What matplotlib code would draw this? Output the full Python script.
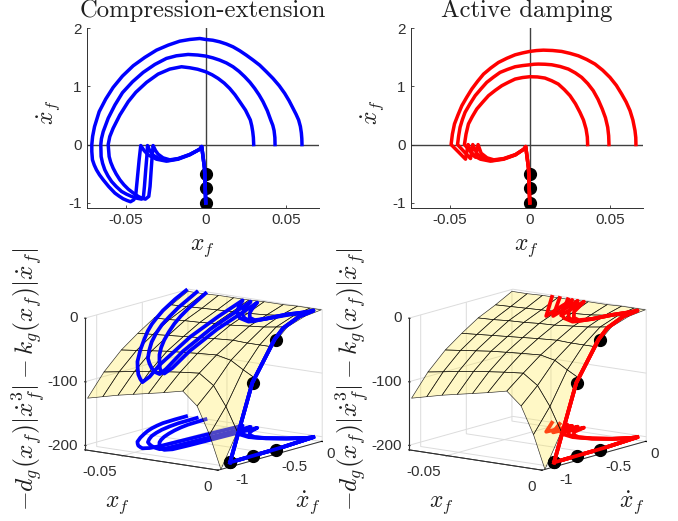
import matplotlib
matplotlib.use('Agg')
import matplotlib.pyplot as plt
import numpy as np

plt.rcParams['font.family'] = ['Liberation Sans', 'DejaVu Sans']
plt.rcParams['mathtext.fontset'] = 'cm'
plt.rcParams['axes.unicode_minus'] = False

W, H = 678, 521

# upper half of the phase portraits (dx > 0), outer / middle / inner cycle
ce_up_x = [
    [.0600, .0599, .0596, .0590, .0579, .0563, .0544, .0520, .0492, .0458, .0419, .0378, .0336, .0295, .0253, .0212,
     .017, .0129, .0087, .0044, 0, -.0037, -.01, -.0162, -.0234, -.0307, -.0380, -.0452, -.0519, -.0577, -.0623,
     -.0664, -.0693, -.0705, -.0710],
    [.0432, .0431, .0426, .0418, .0405, .0384, .0357, .0333, .0305, .0275, .0243, .0208, .017, .0129, .0087, .0044,
     0, -.005, -.011, -.0183, -.0245, -.0317, -.0390, -.0456, -.0519, -.0566, -.0608, -.0639, -.0650, -.0654],
    [.0299, .0297, .0293, .0287, .0278, .0248, .0212, .0182, .0149, .0115, .0077, .0040, 0, -.005, -.01, -.0151,
     -.0224, -.0297, -.0369, -.0436, -.0483, -.0535, -.0577, -.0598, -.0608],
]
ce_up_dx = [
    [0, .10, .20, .31, .422, .52, .622, .75, .879, 1.01, 1.135, 1.25, 1.363, 1.45, 1.534, 1.61,
     1.677, 1.725, 1.763, 1.79, 1.803, 1.82, 1.803, 1.774, 1.706, 1.62, 1.495, 1.352, 1.175, .981, .782,
     .565, .308, .14, 0],
    [0, .12, .24, .33, .422, .58, .736, .85, .964, 1.07, 1.164, 1.255, 1.335, 1.40, 1.449, 1.488,
     1.518, 1.536, 1.546, 1.523, 1.478, 1.375, 1.238, 1.078, .89, .679, .451, .222, .10, 0],
    [0, .12, .22, .32, .422, .59, .736, .855, .964, 1.055, 1.135, 1.197, 1.249, 1.292, 1.318, 1.335,
     1.295, 1.209, 1.067, .896, .736, .508, .28, .137, 0],
]
ad_up_x = [
    [.0662, .0661, .0656, .0643, .0625, .0601, .0573, .0540, .0500, .0455, .0407, .0355, .0303, .0251, .0199, .0142,
     .0085, .0042, 0, -.0045, -.0091, -.0143, -.0195, -.0242, -.0288, -.0325, -.0361, -.0393, -.0423, -.0447, -.0469,
     -.0482, -.0490],
    [.0494, .0492, .0486, .0472, .0452, .0426, .0396, .0362, .0324, .0284, .0241, .0189, .0137, .0095, .0054, .0027,
     0, -.0045, -.0091, -.0138, -.0185, -.0227, -.0268, -.0304, -.0340, -.0372, -.0403, -.0420, -.0434, -.0443,
     -.0450],
    [.0361, .0359, .0351, .0335, .0313, .0285, .0251, .0215, .0178, .0137, .0095, .0048, 0, -.0045, -.0091, -.0132,
     -.0174, -.0215, -.0257, -.0294, -.0330, -.0358, -.0382, -.0397, -.0407],
]
ad_up_dx = [
    [0, .12, .240, .42, .582, .73, .867, 1.015, 1.153, 1.275, 1.381, 1.46, 1.523, 1.565, 1.598, 1.614,
     1.620, 1.613, 1.598, 1.572, 1.540, 1.48, 1.409, 1.315, 1.209, 1.085, .953, .81, .667, .51, .354,
     .18, 0],
    [0, .15, .297, .46, .610, .775, .924, 1.045, 1.152, 1.23, 1.295, 1.34, 1.369, 1.378, 1.381, 1.378,
     1.369, 1.355, 1.335, 1.29, 1.238, 1.155, 1.067, .955, .839, .70, .553, .425, .297, .15,
     0],
    [0, .13, .268, .42, .553, .70, .839, .945, 1.038, 1.095, 1.141, 1.16, 1.164, 1.15, 1.124, 1.07,
     1.010, .93, .839, .725, .610, .48, .354, .18, 0],
]

# lower half (dx < 0) with the value of the force on the surface
ce_low_x = [
    [-.0710, -.0710, -.0706, -.0695, -.0681, -.0662, -.0639, -.0605, -.0566, -.0540, -.0515, -.0490, -.0469, -.0448,
     -.0436, -.0425, -.0415, -.0405, -.0384, -.0359, -.0307, -.0245, -.0172, -.0100, -.0037],
    [-.0654, -.0652, -.0643, -.0629, -.0610, -.0587, -.0558, -.0525, -.0495, -.0463, -.0430, -.0400, -.0388, -.0382,
     -.0374, -.0367, -.0363, -.0349, -.0328, -.0286, -.0234, -.0172, -.0100, -.0037],
    [-.0608, -.0602, -.0592, -.0577, -.0558, -.0535, -.0510, -.0483, -.0452, -.0421, -.0398, -.0376, -.0355, -.0347,
     -.0340, -.0334, -.0328, -.0313, -.0297, -.0266, -.0224, -.0172, -.0100, -.0037],
]
ce_low_dx = [
    [0, -.12, -.262, -.35, -.434, -.52, -.605, -.72, -.833, -.885, -.930, -.96, -.981, -.947,
     -.861, -.548, -.262, -.017, -.103, -.177, -.251, -.285, -.251, -.177, -.080],
    [0, -.205, -.32, -.434, -.535, -.633, -.72, -.804, -.85, -.89, -.92, -.936, -.890, -.719,
     -.434, -.205, -.017, -.103, -.183, -.245, -.274, -.245, -.171, -.080],
    [0, -.205, -.305, -.405, -.505, -.605, -.69, -.765, -.83, -.89, -.92, -.936, -.890, -.719,
     -.434, -.205, -.017, -.103, -.165, -.228, -.262, -.240, -.171, -.080],
]
ce_low_z = [
    [-2, -11, -23, -30, -36, -43, -51, -62, -74, -81, -88, -93, -96, -88,
     -72, -40, -19, -3, -9, -13.5, -17, -18.5, -12, -6, -2],
    [-2, -18, -27, -35, -43, -52, -60, -68, -73, -78, -81, -82, -75, -54,
     -30, -15, -3, -9, -13.5, -16.5, -18, -12, -5, -2],
    [-2, -18, -25, -32, -40, -48, -55, -62, -69, -76, -79, -80, -72, -52,
     -29, -15, -3, -8.5, -12, -15.5, -16, -12, -5, -2],
]
ad_low_x = [
    [-.0490, -.0445, -.0400, -.0390, -.0384, -.0359, -.0307, -.0245, -.0162, -.0089, -.0037],
    [-.0450, -.0410, -.0369, -.0359, -.0355, -.0328, -.0286, -.0234, -.0162, -.0089, -.0037],
    [-.0407, -.0372, -.0338, -.0328, -.0322, -.0303, -.0266, -.0224, -.0162, -.0089, -.0037],
]
ad_low_dx = [
    [0, -.125, -.251, -.091, 0, -.177, -.251, -.285, -.251, -.177, -.080],
    [0, -.120, -.240, -.091, 0, -.160, -.240, -.274, -.245, -.177, -.080],
    [0, -.110, -.217, -.080, 0, -.148, -.228, -.262, -.240, -.171, -.080],
]
ad_low_z = [
    [-2, -10, -18, -7.5, -2, -13.5, -17, -18.5, -12, -5, -2],
    [-2, -10, -17, -7.5, -2, -12.5, -16.5, -18, -12, -5, -2],
    [-2, -9, -15.5, -6.5, -2, -11, -15.5, -16, -12, -5, -2],
]

# final drop along x = 0, common to all cycles
drop_x = [-.0025, -.0017, -.0008, -.0006, -.0003, 0]
drop_dx = [-.034, -.205, -.4, -.5, -.75, -1]
drop_z = [-1, -3, -13, -27, -85, -200]

# initial conditions
dots_x = [0, 0, 0]
dots_dx = [-1, -.75, -.5]
dots_z = [-200, -85, -27]
floor_z = -200

# surface table
surf_x = [-.07, -.062, -.054, -.046, -.038, -.03, -.02, -.0125, -.006, 0]
surf_dx = [-1.1, -.92, -.73, -.55, -.37, -.18, 0]
surf_z = [
    [-127, -121, -115, -110, -105, -100, -93, -113, -155, -207],
    [-93, -89, -85, -81, -78, -75, -72, -88, -118, -155],
    [-66, -63, -60, -57, -55, -53, -51, -56, -68, -78],
    [-47, -45, -43, -41, -39, -37, -35, -36, -36, -36],
    [-30, -29, -27, -26, -24, -23, -20, -18, -15, -12],
    [-17, -16, -15, -14, -13, -12, -10, -7, -5, -3],
    [-3, -3, -2, -2, -2, -1, -1, 0, 0, 0],
]

titles = ['Compression-extension', 'Active damping']
colors = ['#0000ff', '#ff0000']
ups = [(ce_up_x, ce_up_dx), (ad_up_x, ad_up_dx)]
lows = [(ce_low_x, ce_low_dx, ce_low_z), (ad_low_x, ad_low_dx, ad_low_z)]
shift = [0, 324]

dark = '#303030'
lw = 2.5
lw3 = 2.7
tick_fs = 11
label_fs = 17


def px_axes(left, top, width, height, **kw):
    return fig.add_axes([left / W, 1 - (top + height) / H, width / W, height / H], **kw)


fig = plt.figure(figsize=(W / 100, H / 100), dpi=100)

for i in range(2):
    s = shift[i]
    col = colors[i]
    up_x, up_dx = ups[i]
    low_x, low_dx, low_z = lows[i]

    # phase portrait
    ax = px_axes(87 + s, 28, 232, 179.5)
    ax.axhline(0, color='#404040', lw=1.0, zorder=1)
    ax.axvline(0, color='#404040', lw=1.0, zorder=1)
    ax.plot(dots_x, dots_dx, 'o', color='k', ms=8.5, zorder=2)
    for k in range(3):
        ax.plot(up_x[k] + low_x[k][1:] + drop_x, up_dx[k] + low_dx[k][1:] + drop_dx,
                color=col, lw=lw, zorder=3, solid_joinstyle='round')
    ax.set_xlim(-.074, .0706)
    ax.set_ylim(-1.08, 2)
    ax.set_xticks([-.05, 0, .05], ['-0.05', '0', '0.05'])
    ax.set_yticks([-1, 0, 1, 2], ['-1', '0', '1', '2'])
    ax.tick_params(direction='in', length=2.5, width=.6, color=dark, labelsize=tick_fs, labelcolor=dark, pad=4)
    for name in ['top', 'right']:
        ax.spines[name].set_visible(False)
    for name in ['left', 'bottom']:
        ax.spines[name].set_color(dark)
        ax.spines[name].set_linewidth(.7)

    fig.text((203 + s) / W, 1 - 11 / H, titles[i], family='cmr10', fontsize=17.8, ha='center', va='center',
             color='#202020')
    fig.text((202 + s) / W, 1 - 248 / H, r'$x_f$', fontsize=label_fs, ha='center', va='center', color='#202020')
    fig.text((49 + s) / W, 1 - 112 / H, r'$\dot{x}_f$', fontsize=label_fs, rotation=90, ha='center', va='center',
             color='#202020')

    # force surface
    ax3 = px_axes(65.9 + s, 249.3, 268, 268, projection='3d', proj_type='ortho', computed_zorder=False)
    ax3.patch.set_alpha(0)
    ax3.view_init(elev=11.9, azim=-53.5)
    ax3.set_box_aspect((166, 175, 134.6))
    ax3.set_xlim(-.07, 0)
    ax3.set_ylim(-1.13, .01)
    ax3.set_zlim(-207, 0)

    for k in range(3):
        ax3.plot(low_x[k] + drop_x, low_dx[k] + drop_dx, [floor_z] * (len(low_x[k]) + len(drop_x)),
                 color=col, lw=lw3, zorder=1)
    gx, gdx = np.meshgrid(surf_x, surf_dx)
    ax3.plot_surface(gx, gdx, np.array(surf_z), rstride=1, cstride=1, color=(1, .91, .27, .3),
                     edgecolor=(0, 0, 0, .85), linewidth=.45, shade=False, zorder=2)
    ax3.plot(dots_x, dots_dx, dots_z, 'o', color='k', ms=8.5, zorder=3)
    ax3.plot(dots_x, dots_dx, [floor_z] * 3, 'o', color='k', ms=8.5, zorder=3)
    ax3.plot(drop_x, drop_dx, [floor_z] * len(drop_x), color=col, lw=lw3, zorder=4)
    for k in range(3):
        ax3.plot(low_x[k] + drop_x, low_dx[k] + drop_dx, low_z[k] + drop_z, color=col, lw=lw3, zorder=4)
    ax3.plot([-.07, -.07], [-1.13, -1.13], [-207, 0], color=dark, lw=.8, zorder=5)

    ax3.set_xticks([-.05, 0], ['-0.05', '0'], fontsize=tick_fs, color=dark, ha='right')
    ax3.set_yticks([-1, -.5, 0], ['-1', '-0.5', '0'], fontsize=tick_fs, color=dark, ha='left')
    ax3.set_zticks([-200, -100, 0], ['-200', '-100', '0'], fontsize=tick_fs, color=dark, ha='right', va='center')
    for axis in [ax3.xaxis, ax3.yaxis, ax3.zaxis]:
        axis.set_pane_color((1, 1, 1, 0))
        axis.pane.set_edgecolor((.85, .85, .85, 1))
        axis.line.set_color(dark)
        axis.line.set_linewidth(.7)
        axis._axinfo['grid'].update(color='#dcdcdc', linewidth=.7)
        axis._axinfo['tick'].update(inward_factor=.1, outward_factor=0, color=dark)
    ax3.zaxis._axinfo['juggled'] = (1, 0, 2)
    ax3.tick_params(axis='x', pad=-2)
    ax3.tick_params(axis='y', pad=-4)
    ax3.tick_params(axis='z', pad=-5)

    fig.text((117 + s) / W, 1 - 505 / H, r'$x_f$', fontsize=label_fs, ha='center', va='center', color='#202020')
    fig.text((308 + s) / W, 1 - 503 / H, r'$\dot{x}_f$', fontsize=label_fs, ha='center', va='center', color='#202020')
    fig.text((28 + s) / W, 1 - 379 / H, r'$-d_g(x_f)|\dot{x}_f^3|-k_g(x_f)|\dot{x}_f|$', fontsize=18.3, rotation=90,
             ha='center', va='center', color='#202020')

fig.savefig('out.png', dpi=100)
